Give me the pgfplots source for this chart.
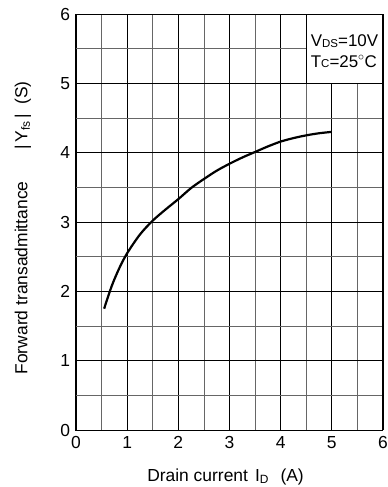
\documentclass[border=0pt]{standalone}
\usepackage{fontspec}
\setmainfont{Liberation Sans}
\usepackage{pgfplots}
\pgfplotsset{compat=1.18}
\newcommand\sub[1]{\raisebox{-0.25ex}{\fontsize{12}{12}\selectfont #1}}
\newcommand\lsub[1]{\raisebox{-0.1ex}{\fontsize{11.5}{11.5}\selectfont #1}}
\begin{document}
\fontsize{17.5}{20}\selectfont
\begin{tikzpicture}
\begin{axis}[
  scale only axis, width=307bp, height=416bp,
  at={(0,0)}, anchor=south west,
  xmin=0, xmax=6, ymin=0, ymax=6,
  xtick={0,1,2,3,4,5,6}, ytick={0,1,2,3,4,5,6},
  minor xtick={0.5,1.5,2.5,3.5,4.5,5.5},
  minor ytick={0.5,1.5,2.5,3.5,4.5,5.5},
  grid=both,
  major grid style={black, line width=0.8bp},
  minor grid style={black!60, line width=0.8bp},
  major tick length=0pt, minor tick length=0pt,
  axis line style={black, line width=1bp},
  tick label style={font=\fontsize{17.5}{20}\selectfont},
  /pgf/number format/assume math mode=true,
  xlabel={Drain current\hspace{7bp}I\sub{D}\hspace{12bp}(A)},
  ylabel={Forward transadmittance\hspace{32bp}|\hspace{3bp}Y\sub{fs}\hspace{3bp}|\hspace{9bp}(S)},
  xlabel style={at={(axis description cs:0.487,-0.124)}, anchor=base},
  ylabel style={at={(axis description cs:-0.158,0.486)}, anchor=base},
  clip=false,
]
\addplot[black, line width=2.2bp, smooth] coordinates {
 (0.55,1.75) (0.7,2.08) (0.85,2.34) (1.0,2.55) (1.25,2.82) (1.5,3.02)
 (1.75,3.18) (2.0,3.33) (2.25,3.49) (2.5,3.62) (2.75,3.74) (3.0,3.84)
 (3.25,3.93) (3.5,4.01) (3.75,4.09) (4.0,4.16) (4.25,4.21) (4.5,4.25)
 (4.75,4.28) (5.0,4.30)
};
\filldraw[fill=white, draw=black, line width=1bp] (axis cs:4.5,5) rectangle (axis cs:6,6);
\node[anchor=base west, inner sep=0pt, font=\fontsize{17}{20}\selectfont]
  at (axis cs:4.587,5.529) {V\lsub{DS}=10V};
\node[anchor=base west, inner sep=0pt, font=\fontsize{17}{20}\selectfont]
  at (axis cs:4.587,5.235) {T\lsub{C}=25$^\circ$C};
\end{axis}
\pgfresetboundingbox
\useasboundingbox (-76bp,-57bp) rectangle (312bp,430bp);
\end{tikzpicture}
\end{document}
